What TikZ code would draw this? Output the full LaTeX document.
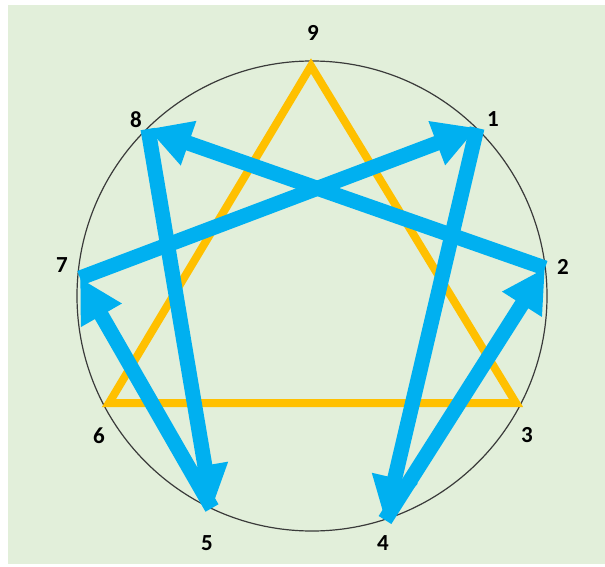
\documentclass[tikz,border=0pt]{standalone}
\usepackage{fontspec}
\setmainfont{Carlito}
\usetikzlibrary{arrows.meta}
\definecolor{bggreen}{HTML}{E2EFDA}
\definecolor{arrowblue}{HTML}{00B0F0}
\definecolor{triorange}{HTML}{FFC000}
\definecolor{ringgray}{HTML}{3A3A3A}
\tikzset{
  lbl/.style={font=\bfseries\fontsize{23}{25}\selectfont, text=black, inner sep=0pt},
  ring/.style={draw=ringgray, line width=1.2pt},
  tri/.style={draw=triorange, line width=8pt, line join=miter},
  flow/.style={draw=arrowblue, line width=15pt, line cap=butt,
    -{Triangle[length=43pt,width=44pt]}}
}
\begin{document}
\begin{tikzpicture}[x=1pt,y=-1pt]
\useasboundingbox (0,0) rectangle (605,567);
\fill[white] (0,0) rectangle (605,567);
\fill[bggreen] (8,5) rectangle (605,564);
% ring
\coordinate (c) at (312,296);
\draw[ring] (c) circle[radius=235];
% points on the ring
\coordinate (p1) at (477,128);
\coordinate (p2) at (545,268);
\coordinate (p4) at (385,520);
\coordinate (p5) at (212,508);
\coordinate (p7) at (80,278);
\coordinate (p8) at (148,129);
% triangle vertices
\coordinate (t9) at (311,66);
\coordinate (t3) at (516,403);
\coordinate (t6) at (109,403);
\draw[tri] (t9) -- (t3) -- (t6) -- cycle;
% arrows 1-4-2-8-5-7-1
\draw[flow] (p1) -- (p4);
\draw[flow] (p4) -- (p2);
\draw[flow] (p2) -- (p8);
\draw[flow] (p8) -- (p5);
\draw[flow] (p5) -- (p7);
\draw[flow] (p7) -- (p1);
% labels
\node[lbl] (l9) at (313,33) {9};
\node[lbl] (l1) at (493,119) {1};
\node[lbl] (l2) at (563,267) {2};
\node[lbl] (l3) at (527,435) {3};
\node[lbl] (l4) at (383,543) {4};
\node[lbl] (l5) at (207,543) {5};
\node[lbl] (l6) at (99,436) {6};
\node[lbl] (l7) at (62,265) {7};
\node[lbl] (l8) at (136,120) {8};
\end{tikzpicture}
\end{document}
